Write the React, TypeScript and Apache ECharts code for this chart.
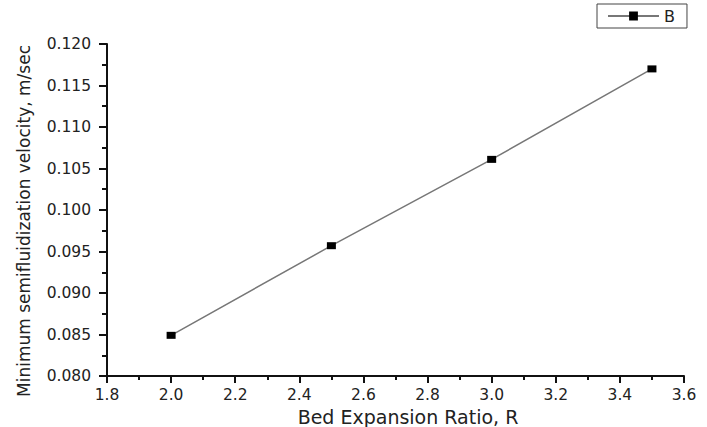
import React, { useEffect, useRef } from "react";
import * as echarts from "echarts";

const expansionRatio = [2.0, 2.5, 3.0, 3.5];
const minVelocity = [0.0849, 0.0957, 0.1061, 0.117];
const seriesName = "B";
const xAxisTitle = "Bed Expansion Ratio, R";
const yAxisTitle = "Minimum semifluidization velocity, m/sec";

export default function App() {
  const ref = useRef<HTMLDivElement>(null);
  useEffect(() => {
    if (!ref.current) return;
    const chart = echarts.init(ref.current, null, { renderer: "svg" });
    const font = "DejaVu Sans";
    chart.setOption({
      animation: false,
      backgroundColor: "#fff",
      grid: {
        left: 107,
        right: 23,
        top: 44,
        bottom: 51,
        containLabel: false,
        outerBoundsMode: "none",
      },
      legend: {
        left: 597,
        top: 4,
        padding: [4, 12, 4, 10],
        borderColor: "#444",
        borderWidth: 1,
        itemWidth: 51,
        itemHeight: 11,
        textStyle: { fontFamily: font, fontSize: 16, color: "#222" },
        data: [seriesName],
      },
      xAxis: {
        type: "value",
        min: 1.8,
        max: 3.6,
        interval: 0.2,
        name: xAxisTitle,
        nameLocation: "middle",
        nameGap: 28,
        nameTextStyle: {
          fontFamily: font,
          fontSize: 19,
          color: "#222",
          padding: [0, 0, 0, 25],
        },
        axisLine: { lineStyle: { color: "#111", width: 2 } },
        axisTick: { inside: false, length: 7, lineStyle: { color: "#111", width: 2 } },
        minorTick: { show: true, splitNumber: 2, length: 4, lineStyle: { color: "#111", width: 2 } },
        splitLine: { show: false },
        axisLabel: {
          fontFamily: font,
          fontSize: 15.5,
          color: "#222",
          margin: 11,
          formatter: (v: number) => v.toFixed(1),
        },
      },
      yAxis: {
        type: "value",
        min: 0.08,
        max: 0.12,
        interval: 0.005,
        name: yAxisTitle,
        nameLocation: "middle",
        nameGap: 75,
        nameTextStyle: {
          fontFamily: font,
          fontSize: 17,
          color: "#222",
          padding: [0, 22, 0, 0],
        },
        axisLine: { show: true, lineStyle: { color: "#111", width: 2 } },
        axisTick: { show: true, inside: false, length: 8, lineStyle: { color: "#111", width: 2 } },
        minorTick: { show: true, splitNumber: 2, length: 5, lineStyle: { color: "#111", width: 2 } },
        splitLine: { show: false },
        axisLabel: {
          fontFamily: font,
          fontSize: 15.5,
          color: "#222",
          margin: 16,
          formatter: (v: number) => v.toFixed(3),
        },
      },
      series: [
        {
          name: seriesName,
          type: "line",
          data: expansionRatio.map((x, i) => [x, minVelocity[i]]),
          symbol: "rect",
          symbolSize: [9, 7],
          itemStyle: { color: "#000" },
          lineStyle: { color: "#777", width: 1.5 },
        },
      ],
    });
    return () => chart.dispose();
  }, []);
  return (
    <div
      ref={ref}
      style={{ position: "fixed", left: 0, top: 0, width: 707, height: 427, background: "#fff" }}
    />
  );
}
